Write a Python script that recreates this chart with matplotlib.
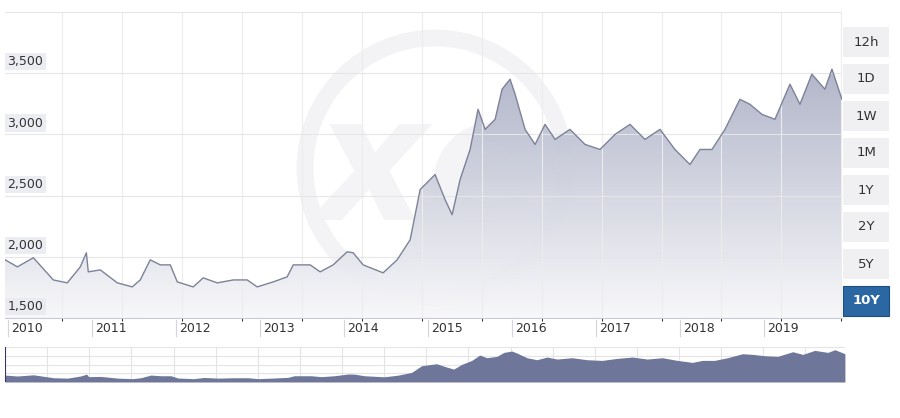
import numpy as np
import matplotlib.pyplot as plt
from matplotlib.patches import Ellipse, Rectangle
from matplotlib.colors import LinearSegmentedColormap

# decimal years and rates
years = [2009.96, 2010.107, 2010.298, 2010.536, 2010.702, 2010.857, 2010.929, 2010.952,
         2011.095, 2011.298, 2011.476, 2011.571, 2011.690, 2011.810, 2011.929, 2012.012,
         2012.202, 2012.321, 2012.488, 2012.679, 2012.845, 2012.964, 2013.155, 2013.321,
         2013.393, 2013.595, 2013.714, 2013.869, 2014.036, 2014.107, 2014.226, 2014.464,
         2014.631, 2014.786, 2014.905, 2015.083, 2015.202, 2015.286, 2015.381, 2015.500,
         2015.595, 2015.679, 2015.798, 2015.881, 2015.976, 2016.036, 2016.155, 2016.274,
         2016.393, 2016.512, 2016.690, 2016.869, 2017.048, 2017.226, 2017.405, 2017.583,
         2017.762, 2017.940, 2018.119, 2018.238, 2018.381, 2018.536, 2018.714, 2018.833,
         2018.976, 2019.131, 2019.310, 2019.429, 2019.571, 2019.726, 2019.810, 2019.929]
rates = [1976, 1918, 1992, 1811, 1787, 1918, 2033, 1877,
         1893, 1787, 1754, 1811, 1975, 1934, 1934, 1795,
         1754, 1828, 1787, 1811, 1811, 1754, 1795, 1836,
         1934, 1934, 1877, 1934, 2041, 2033, 1934, 1869,
         1975, 2139, 2549, 2672, 2467, 2344, 2631, 2877,
         3205, 3041, 3123, 3369, 3451, 3328, 3041, 2918,
         3082, 2959, 3041, 2918, 2877, 3000, 3082, 2959,
         3041, 2877, 2754, 2877, 2877, 3041, 3287, 3246,
         3164, 3123, 3410, 3246, 3492, 3369, 3533, 3287]
year_ticks = list(range(2010, 2020))
y_ticks = [1500, 2000, 2500, 3000, 3500]
buttons = ['12h', '1D', '1W', '1M', '1Y', '2Y', '5Y', '10Y']

W, H = 900, 418
fig = plt.figure(figsize=(9, 4.18), dpi=100)
x0, x1 = 2009.96, 2019.93

def box(l, t, r, b):
    return [l / W, 1 - b / H, (r - l) / W, (b - t) / H]

ax = fig.add_axes(box(5, 12, 842, 318))
ax.set_xlim(x0, x1)
ax.set_ylim(1500, 4000)
for s in ax.spines.values():
    s.set_visible(False)
ax.spines['bottom'].set_visible(True)
ax.spines['bottom'].set_color('#c8cad8')
ax.set_yticks(y_ticks + [4000])
ax.yaxis.grid(True, color='#e6e6e6', lw=0.8)
ax.set_xticks(np.arange(x0 + 0.68, x1, 0.714), minor=True)
ax.xaxis.grid(True, which='minor', color='#ececec', lw=0.8)
ax.tick_params(left=False, labelleft=False, bottom=False, labelbottom=False)

# watermark (pixel sized ellipse so it stays round)
ax.add_patch(Ellipse((435 / W, 1 - 168 / H), 260 / W, 260 / H, transform=fig.transFigure,
                     fill=False, lw=12, ec='#f3f3f6', zorder=0.5))
fig.text(430 / W, 1 - 172 / H, 'xe', fontsize=125, fontweight='bold', style='italic',
         color='#f4f4f6', ha='center', va='center', zorder=-1)
ax.patch.set_alpha(0)

# gradient fill
grad = np.linspace(1, 0, 256).reshape(-1, 1)
cmap = LinearSegmentedColormap.from_list('g', ['#f8f8fa', '#a9aec4'])
im = ax.imshow(grad, cmap=cmap, aspect='auto', extent=[x0, x1, 1500, 3600],
               zorder=1, alpha=0.93)
poly = ax.fill_between(years, rates, 1500, color='none')
im.set_clip_path(poly.get_paths()[0], transform=ax.transData)
ax.plot(years, rates, color='#7d8299', lw=1.0, zorder=2)

for v in y_ticks:
    ax.text(x0 + 0.03, v + 40, f'{v:,}', fontsize=9, color='#333333',
            va='bottom', ha='left', zorder=3,
            bbox=dict(fc='#e8e9f0', ec='none', pad=1.5, alpha=0.8))

# year labels
for i, y in enumerate(year_ticks):
    fig.text((8 + 84 * i + 3) / W, 1 - 328 / H, str(y), fontsize=9,
             color='#333333', ha='left', va='center')
    fig.add_artist(plt.Line2D([(8 + 84 * i) / W] * 2, [1 - 320 / H, 1 - 336 / H],
                              color='#d4d4dc', lw=0.8))

# navigator
nav = fig.add_axes(box(5, 347, 845, 382))
nav.set_xlim(x0, x1)
nav.set_ylim(1550, 3700)
nav.fill_between(years, rates, 1550, color='#6e7699', lw=0)
for s in nav.spines.values():
    s.set_visible(False)
nav.set_yticks(np.linspace(1550, 3700, 5))
nav.set_xticks(np.arange(x0 + 0.5, x1, 0.5))
nav.grid(True, color='#e4e4e4', lw=0.8)
nav.set_axisbelow(True)
nav.tick_params(left=False, labelleft=False, bottom=False, labelbottom=False)
nav.axvline(x0 + 0.005, color='#333366', lw=1.5)

# range buttons
for i, b in enumerate(buttons):
    t = 27 + 37 * i
    sel = b == '10Y'
    fig.add_artist(Rectangle((843 / W, 1 - (t + 30) / H), 46 / W, 30 / H,
                             transform=fig.transFigure,
                             fc='#2b67a3' if sel else '#f0f0f2',
                             ec='#1d4f82' if sel else 'none', lw=0.8))
    fig.text(866 / W, 1 - (t + 15) / H, b, fontsize=9.5,
             color='white' if sel else '#333333',
             fontweight='bold' if sel else 'normal', ha='center', va='center')

fig.savefig('out.png', dpi=100)
